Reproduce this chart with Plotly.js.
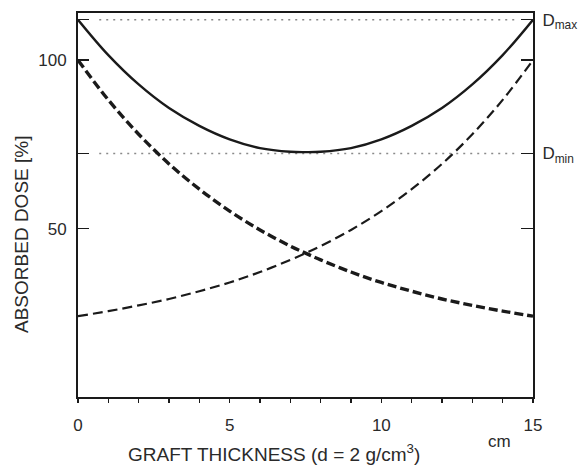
<!DOCTYPE html>
<html>
<head>
<meta charset="utf-8">
<script src="https://cdn.plot.ly/plotly-3.0.1.min.js"></script>
<style>
  html, body { margin: 0; padding: 0; background: #fff; }
  #chart { width: 580px; height: 466px; }
</style>
</head>
<body>
<div id="chart"></div>
<script>
// Graft thickness positions (cm)
var thickness = [0, 1, 2, 3, 4, 5, 6, 7, 7.5, 8, 9, 10, 11, 12, 13, 14, 15];

// Dose from the field entering at the left surface (%)
var doseLeft = [100, 88.2, 78.0, 69.2, 61.7, 55.2, 49.6, 44.8, 42.7, 40.7, 37.1, 34.0, 31.4, 29.1, 27.2, 25.5, 24.0];

// Dose from the opposed field entering at the right surface (%)
var doseRight = [24.0, 25.5, 27.2, 29.1, 31.4, 34.0, 37.1, 40.7, 42.7, 44.8, 49.6, 55.2, 61.7, 69.2, 78.0, 88.2, 100];

// Total absorbed dose of both fields (%)
var doseTotal = [112, 101.5, 92.8, 85.8, 80.5, 76.5, 73.9, 72.8, 72.7, 72.8, 73.9, 76.5, 80.5, 85.8, 92.8, 101.5, 112];

// Reference levels
var dMax = 112;
var dMin = 72.3;
var refSpan = [0.7, 14.5];

// Axis ticks: labelled percent values and the reference levels
var xTickVals = [0, 5, 10, 15];
var yPercentVals = [50, 100];
var yLevelVals = [dMin, dMax];
var yLevelText = ['D<sub>min</sub>', 'D<sub>max</sub>'];

var ink = '#1a1a1a';
var textInk = '#2a2a2a';
var yRange = [0, 114];

var traces = [
  {
    x: refSpan, y: [dMax, dMax], mode: 'lines', hoverinfo: 'skip',
    line: { color: '#8a8a8a', width: 1.6, dash: '2px,5px' }
  },
  {
    x: refSpan, y: [dMin, dMin], mode: 'lines', hoverinfo: 'skip',
    line: { color: '#8a8a8a', width: 1.6, dash: '2px,5px' }
  },
  {
    x: thickness, y: doseRight, mode: 'lines',
    line: { color: ink, width: 2.2, dash: '10px,5px', shape: 'spline' }
  },
  {
    x: thickness, y: doseLeft, mode: 'lines',
    line: { color: ink, width: 3.4, dash: '9px,4px', shape: 'spline' }
  },
  {
    x: thickness, y: doseTotal, mode: 'lines',
    line: { color: ink, width: 2.4, shape: 'spline' }
  }
];

// Invisible anchors so the overlaid tick-only axes are drawn
['y2', 'y3', 'y4'].forEach(function (ax) {
  traces.push({ x: [0], y: [0], yaxis: ax, mode: 'markers', marker: { opacity: 0 }, hoverinfo: 'skip' });
});

function tickAxis(extra) {
  var base = {
    range: yRange,
    showgrid: false,
    zeroline: false,
    showline: true,
    linecolor: ink,
    linewidth: 2,
    tickmode: 'array',
    ticks: 'inside',
    ticklen: 11,
    tickwidth: 1.5,
    tickcolor: ink,
    tickfont: { size: 17, color: textInk }
  };
  for (var k in extra) base[k] = extra[k];
  return base;
}

var layout = {
  width: 580,
  height: 466,
  margin: { l: 78, r: 47, t: 13, b: 69 },
  paper_bgcolor: '#fff',
  plot_bgcolor: '#fff',
  showlegend: false,
  font: { family: 'Liberation Sans, Arial, sans-serif', color: textInk },
  xaxis: {
    range: [0, 15],
    showgrid: false,
    zeroline: false,
    showline: true,
    linecolor: ink,
    linewidth: 2,
    mirror: true,
    tickmode: 'array',
    tickvals: xTickVals,
    ticks: 'outside',
    ticklen: 4,
    tickwidth: 1.5,
    tickcolor: ink,
    ticklabelstandoff: 8,
    tickfont: { size: 17, color: textInk },
    minor: { dtick: 1, ticks: 'outside', ticklen: 4, tickwidth: 1.5, tickcolor: ink }
  },
  // left: labelled 50 / 100
  yaxis: tickAxis({ tickvals: yPercentVals, ticklabelstandoff: 6 }),
  // right: Dmin / Dmax labels
  yaxis2: tickAxis({ overlaying: 'y', side: 'right', tickvals: yLevelVals, ticktext: yLevelText, ticklen: 12, ticklabelstandoff: 4 }),
  // left: unlabelled ticks at the reference levels
  yaxis3: tickAxis({ overlaying: 'y', side: 'left', tickvals: yLevelVals, showticklabels: false }),
  // right: unlabelled ticks at 50 / 100
  yaxis4: tickAxis({ overlaying: 'y', side: 'right', tickvals: yPercentVals, ticklen: 12, showticklabels: false }),
  annotations: [
    {
      text: 'ABSORBED DOSE [%]',
      xref: 'paper', yref: 'paper', x: -0.123, y: 0.422,
      xanchor: 'center', yanchor: 'middle', textangle: -90,
      showarrow: false, font: { size: 19, color: textInk }
    },
    {
      text: 'GRAFT THICKNESS (d = 2 g/cm<sup>3</sup>)',
      xref: 'paper', yref: 'paper', x: 0.43, y: -0.146,
      xanchor: 'center', yanchor: 'middle',
      showarrow: false, font: { size: 19, color: textInk }
    },
    {
      text: 'cm',
      xref: 'paper', yref: 'paper', x: 0.927, y: -0.117,
      xanchor: 'center', yanchor: 'middle',
      showarrow: false, font: { size: 17, color: textInk }
    }
  ]
};

Plotly.newPlot('chart', traces, layout, { staticPlot: true });
</script>
</body>
</html>
